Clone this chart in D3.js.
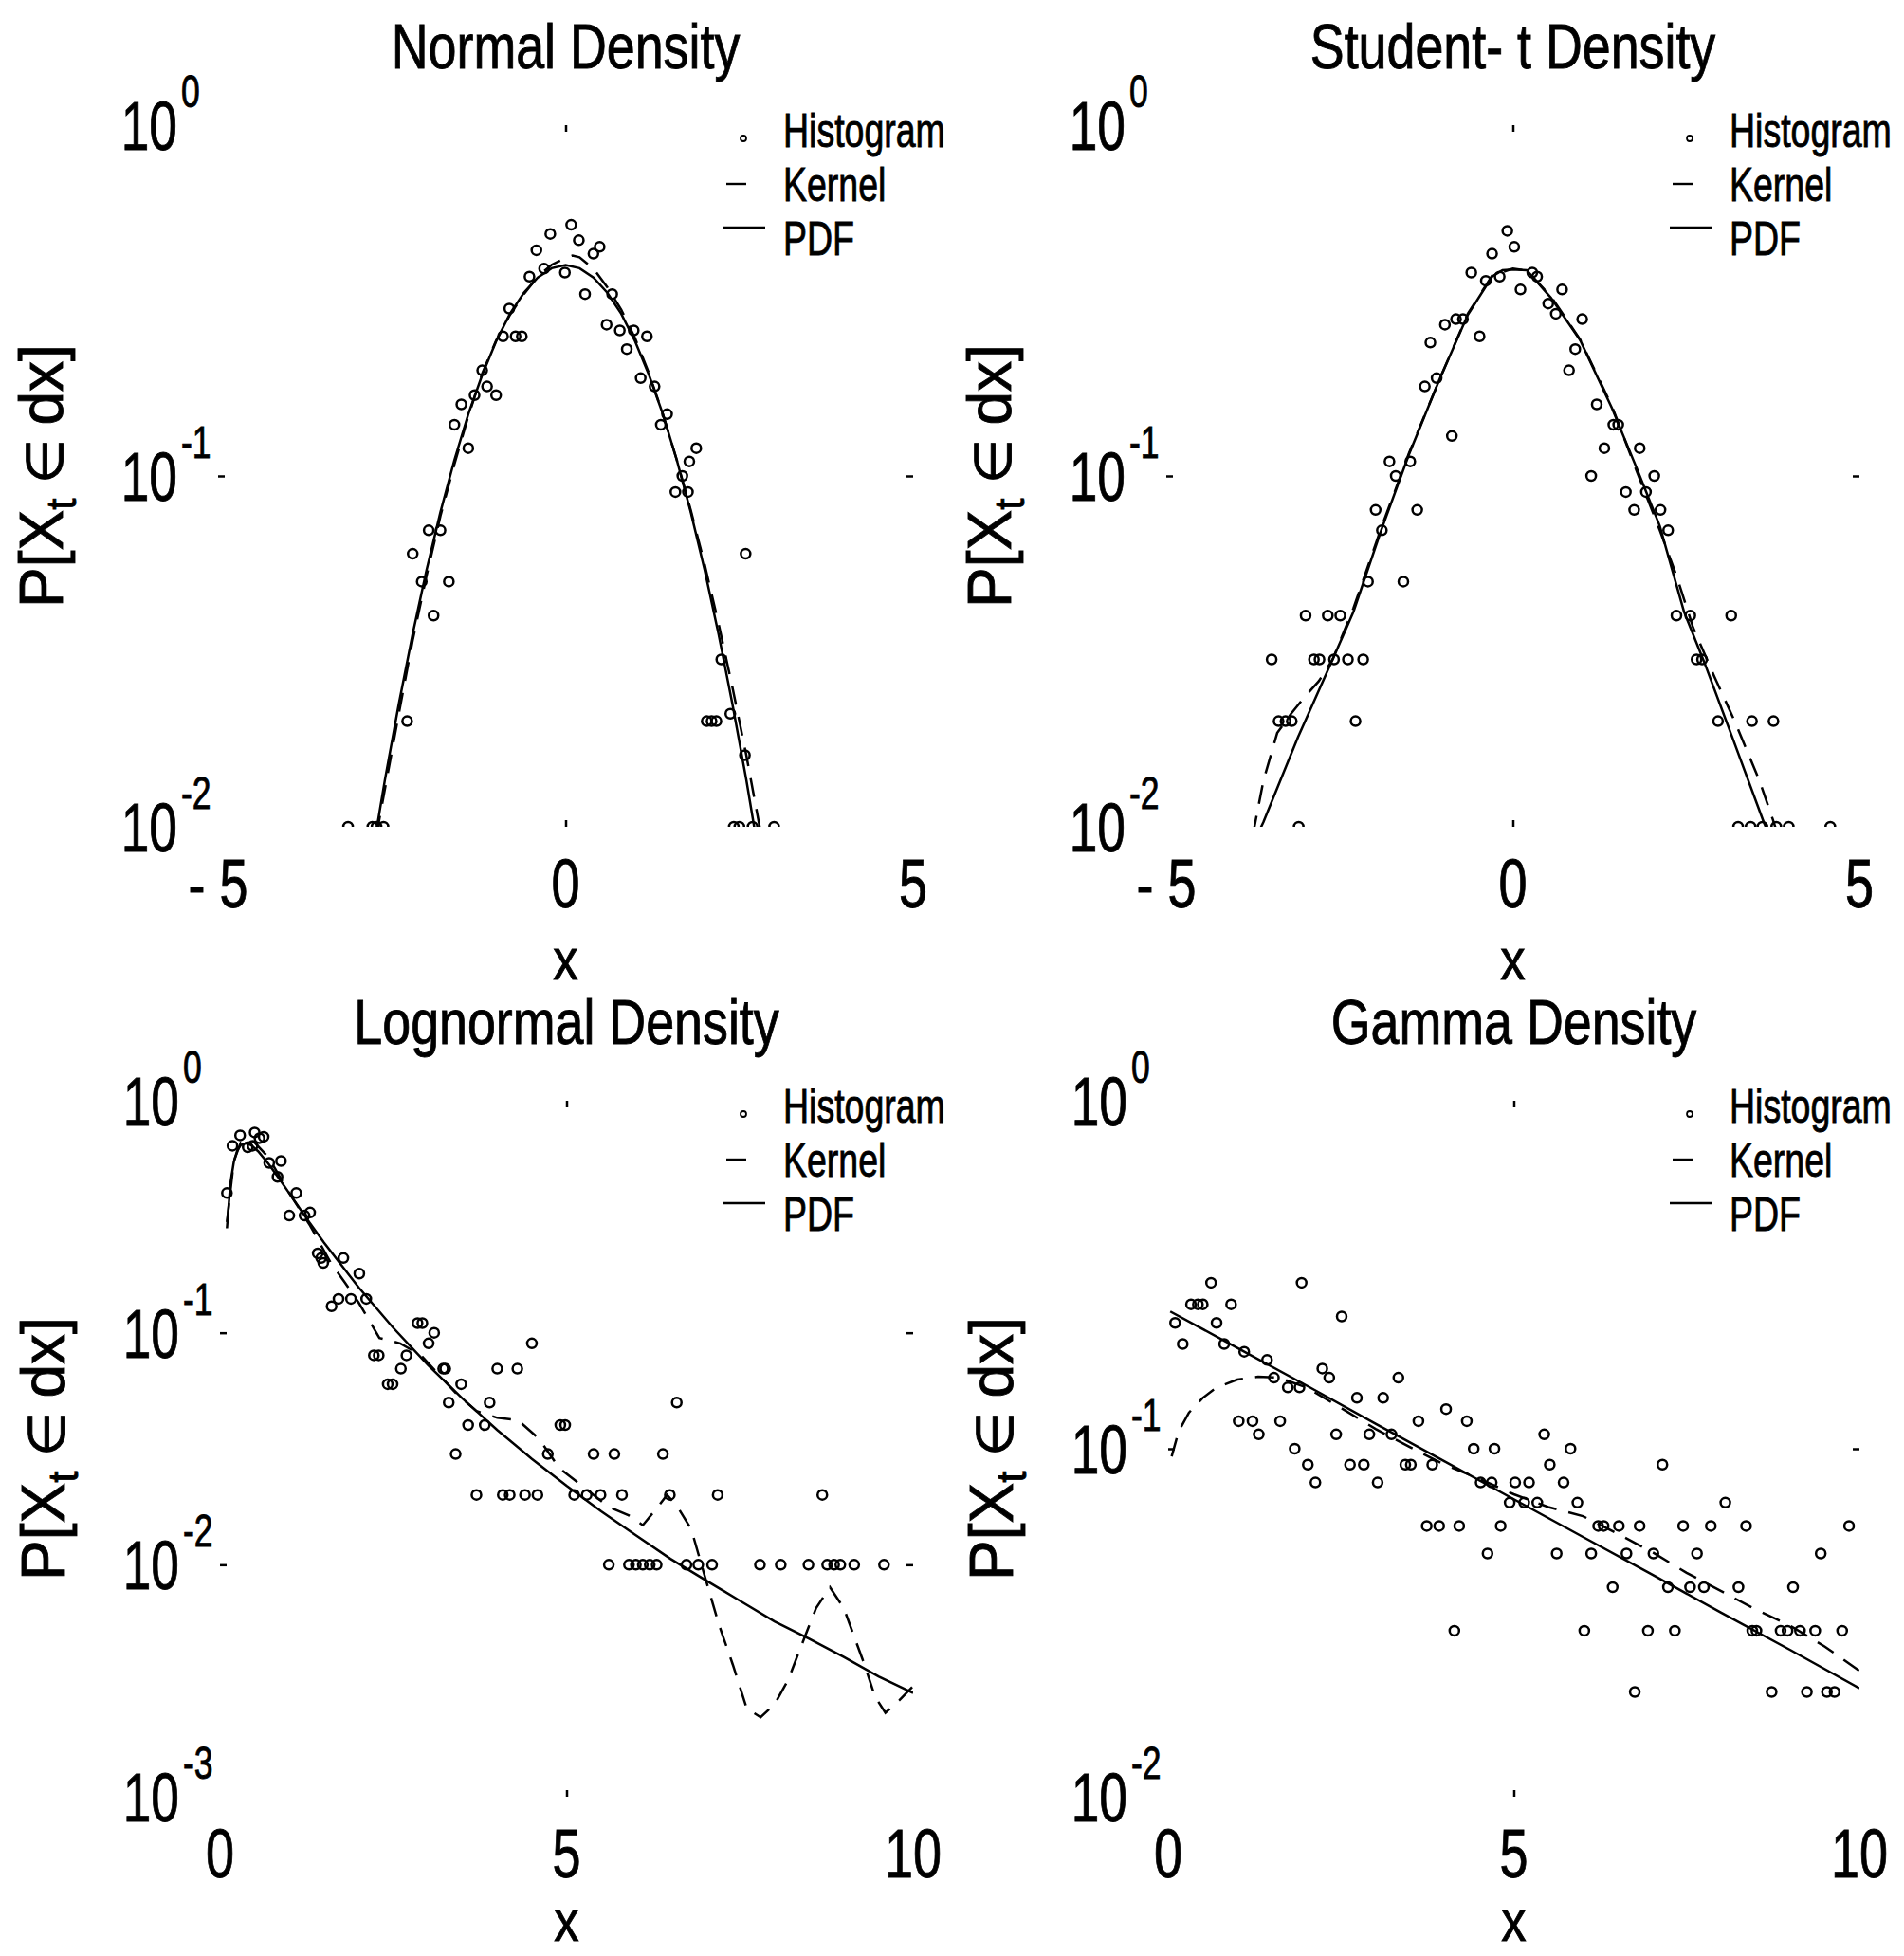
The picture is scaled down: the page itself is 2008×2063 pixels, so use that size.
<!DOCTYPE html>
<html>
<head>
<meta charset="utf-8">
<script src="https://cdn.jsdelivr.net/npm/d3@7"></script>
<style>
  html, body { margin: 0; padding: 0; background: #fff; }
  svg text { font-family: "Liberation Sans", Arial, sans-serif; fill: #000; stroke: #000; stroke-width: 0.9px; }
</style>
</head>
<body>
<svg id="fig" width="2008" height="2063"></svg>
<script>
// ---------------- data: [x, density] ----------------
const normalHist = [
  [0.08,0.52],[-0.22,0.49],[0.19,0.47],[0.49,0.45],[0.40,0.43],[-0.42,0.44],[-0.01,0.38],[-0.31,0.39],
  [-0.52,0.37],[0.28,0.33],[0.67,0.33],[-0.81,0.30],[-0.90,0.25],[-0.72,0.25],[-0.63,0.25],[0.59,0.27],
  [0.78,0.26],[0.98,0.26],[1.17,0.25],[0.88,0.23],[-1.20,0.20],[-1.13,0.18],[-1.00,0.17],[-1.31,0.17],
  [-1.50,0.16],[-1.60,0.14],[-1.40,0.12],[1.08,0.19],[1.28,0.18],[1.46,0.15],[1.37,0.14],[1.88,0.12],
  [1.78,0.11],[1.68,0.10],[1.58,0.09],[1.76,0.09],[-1.97,0.07],[-1.80,0.07],[-2.20,0.06],[-2.07,0.05],
  [-1.68,0.05],[-1.90,0.04],[2.59,0.06],[-2.28,0.02],[2.03,0.02],[2.10,0.02],[2.17,0.02],[2.37,0.021],
  [2.58,0.016],[2.24,0.03],[-3.13,0.01],[-2.78,0.01],[-2.72,0.01],[-2.62,0.01],[2.42,0.01],[2.50,0.01],
  [2.69,0.01],[3.00,0.01]
];
const normalKernel = [
  [-3.0,0.0052],[-2.8,0.0078],[-2.6,0.0128],[-2.4,0.021],[-2.2,0.034],[-2.0,0.052],[-1.8,0.077],[-1.6,0.108],
  [-1.4,0.148],[-1.2,0.196],[-1.0,0.243],[-0.8,0.288],[-0.6,0.330],[-0.4,0.370],[-0.2,0.400],[0.0,0.418],
  [0.1,0.425],[0.2,0.420],[0.4,0.390],[0.6,0.345],[0.8,0.298],[1.0,0.247],[1.2,0.196],[1.4,0.150],
  [1.6,0.111],[1.8,0.080],[2.0,0.056],[2.2,0.038],[2.4,0.025],[2.6,0.016],[2.8,0.0098],[3.0,0.0058]
];
const normalPdf = [
  [-3.0,0.0044],[-2.8,0.0079],[-2.6,0.0136],[-2.4,0.0224],[-2.2,0.0355],[-2.0,0.054],[-1.8,0.079],[-1.6,0.111],
  [-1.4,0.150],[-1.2,0.194],[-1.0,0.242],[-0.8,0.290],[-0.6,0.333],[-0.4,0.368],[-0.2,0.391],[0.0,0.399],
  [0.2,0.391],[0.4,0.368],[0.6,0.333],[0.8,0.290],[1.0,0.242],[1.2,0.194],[1.4,0.150],[1.6,0.111],
  [1.8,0.079],[2.0,0.054],[2.2,0.0355],[2.4,0.0224],[2.6,0.0136],[2.8,0.0079],[3.0,0.0044]
];

const studentHist = [
  [-0.08,0.50],[0.02,0.45],[-0.30,0.43],[-0.60,0.38],[-0.39,0.36],[-0.19,0.37],[0.11,0.34],[0.28,0.38],
  [0.35,0.37],[0.71,0.34],[0.51,0.31],[0.62,0.29],[1.00,0.28],[-0.98,0.27],[-0.72,0.28],[-0.82,0.28],
  [-1.19,0.24],[-0.48,0.25],[-1.10,0.19],[-1.27,0.18],[0.90,0.23],[0.81,0.20],[1.21,0.16],[1.52,0.14],
  [1.45,0.14],[-0.88,0.13],[-1.78,0.11],[-1.48,0.11],[-1.69,0.10],[1.32,0.12],[1.83,0.12],[1.13,0.10],
  [2.04,0.10],[1.63,0.09],[1.92,0.09],[1.75,0.08],[2.13,0.08],[2.24,0.07],[-1.98,0.08],[-1.38,0.08],
  [-1.89,0.07],[-2.09,0.05],[-1.58,0.05],[-2.99,0.04],[-2.67,0.04],[-2.49,0.04],[2.36,0.04],[2.56,0.04],
  [3.15,0.04],[-3.48,0.03],[-2.87,0.03],[-2.79,0.03],[-2.58,0.03],[-2.38,0.03],[-2.16,0.03],[2.65,0.03],
  [2.73,0.03],[-3.38,0.02],[-3.28,0.02],[-3.19,0.02],[-2.27,0.02],[2.96,0.02],[3.45,0.02],[3.76,0.02],
  [-3.09,0.01],[3.25,0.01],[3.43,0.01],[3.60,0.01],[3.80,0.01],[3.98,0.01],[4.58,0.01]
];
const studentKernel = [
  [-3.75,0.0095],[-3.6,0.0135],[-3.4,0.0185],[-3.2,0.021],[-3.0,0.0235],[-2.8,0.026],[-2.6,0.030],[-2.3,0.042],
  [-1.9,0.071],[-1.5,0.116],[-1.05,0.190],[-0.65,0.290],[-0.3,0.372],[0.0,0.390],[0.2,0.385],[0.55,0.325],
  [0.97,0.245],[1.43,0.158],[1.78,0.104],[2.12,0.070],[2.36,0.052],[2.6,0.037],[2.9,0.027],[3.2,0.020],
  [3.56,0.0135],[3.75,0.0105],[3.9,0.0085]
];
const studentPdf = [
  [-3.8,0.0085],[-3.6,0.0103],[-3.1,0.018],[-2.6,0.030],[-2.3,0.041],[-1.9,0.070],[-1.5,0.115],[-1.05,0.190],
  [-0.65,0.288],[-0.3,0.370],[-0.15,0.386],[0.0,0.388],[0.2,0.386],[0.55,0.322],[0.97,0.244],[1.43,0.156],
  [1.78,0.106],[2.12,0.072],[2.47,0.041],[2.76,0.0295],[3.1,0.0195],[3.62,0.0103],[3.8,0.0085]
];

const lognormalHist = [
  [0.18,0.64],[0.29,0.71],[0.40,0.63],[0.47,0.64],[0.50,0.73],[0.57,0.69],[0.63,0.70],[0.71,0.54],
  [0.88,0.55],[0.83,0.47],[0.10,0.40],[1.10,0.40],[1.00,0.32],[1.22,0.32],[1.30,0.33],[1.41,0.22],
  [1.46,0.21],[1.49,0.20],[1.78,0.21],[2.01,0.18],[1.61,0.13],[1.71,0.14],[1.89,0.14],[2.11,0.14],
  [2.85,0.11],[2.92,0.11],[3.09,0.10],[3.01,0.09],[2.69,0.08],[2.22,0.08],[2.29,0.08],[2.61,0.07],
  [2.42,0.06],[2.49,0.06],[3.22,0.07],[3.25,0.07],[3.48,0.06],[3.30,0.05],[3.89,0.05],[4.00,0.07],
  [4.29,0.07],[4.50,0.09],[3.58,0.04],[3.82,0.04],[4.91,0.04],[4.98,0.04],[3.40,0.03],[4.73,0.03],
  [5.39,0.03],[5.69,0.03],[6.39,0.03],[6.59,0.05],[3.70,0.02],[4.08,0.02],[4.18,0.02],[4.40,0.02],
  [4.58,0.02],[5.11,0.02],[5.29,0.02],[5.49,0.02],[5.80,0.02],[6.49,0.02],[7.18,0.02],[8.69,0.02],
  [5.61,0.01],[5.90,0.01],[6.00,0.01],[6.10,0.01],[6.20,0.01],[6.30,0.01],[6.73,0.01],[6.90,0.01],
  [7.10,0.01],[7.79,0.01],[8.09,0.01],[8.49,0.01],[8.76,0.01],[8.86,0.01],[8.95,0.01],[9.15,0.01],
  [9.58,0.01]
];
const lognormalKernel = [
  [0.10,0.30],[0.20,0.55],[0.30,0.66],[0.40,0.68],[0.50,0.66],[0.70,0.57],[1.00,0.40],[1.30,0.29],
  [1.60,0.20],[1.80,0.165],[2.00,0.135],[2.30,0.095],[2.60,0.090],[2.90,0.080],[3.20,0.064],[3.40,0.055],
  [3.70,0.046],[4.00,0.043],[4.30,0.042],[4.60,0.035],[4.90,0.026],[5.30,0.021],[5.60,0.0178],[5.90,0.0163],
  [6.10,0.0148],[6.30,0.0175],[6.45,0.020],[6.60,0.0178],[6.80,0.0142],[7.00,0.0088],[7.20,0.0055],[7.40,0.0037],
  [7.60,0.0024],[7.80,0.0022],[8.00,0.0025],[8.20,0.0032],[8.45,0.0050],[8.60,0.0065],[8.80,0.0080],[9.00,0.0065],
  [9.15,0.0049],[9.30,0.0037],[9.45,0.0027],[9.60,0.0023],[9.80,0.0026],[10.0,0.0030]
];
const lognormalPdf = [
  [0.10,0.282],[0.15,0.440],[0.20,0.546],[0.25,0.611],[0.30,0.644],[0.37,0.656],[0.45,0.644],[0.55,0.606],
  [0.70,0.535],[0.85,0.463],[1.00,0.399],[1.25,0.311],[1.50,0.245],[2.00,0.157],[2.50,0.105],[3.00,0.0727],
  [3.50,0.052],[4.00,0.0381],[4.50,0.0286],[5.00,0.0219],[5.50,0.0170],[6.00,0.0134],[6.50,0.0106],[7.00,0.0086],
  [7.50,0.0070],[8.00,0.0057],[8.50,0.0048],[9.00,0.0040],[9.50,0.0033],[10.0,0.0028]
];

const gammaHist = [
  [0.62,0.30],[1.93,0.30],[0.33,0.26],[0.43,0.26],[0.50,0.26],[0.91,0.26],[0.10,0.23],[0.21,0.20],
  [0.70,0.23],[0.81,0.20],[1.10,0.19],[1.43,0.18],[2.23,0.17],[2.33,0.16],[2.51,0.24],[3.33,0.16],
  [1.53,0.16],[1.73,0.15],[1.90,0.15],[2.73,0.14],[3.11,0.14],[4.02,0.13],[3.62,0.12],[4.32,0.12],
  [1.02,0.12],[1.22,0.12],[1.62,0.12],[1.31,0.11],[2.43,0.11],[2.91,0.11],[3.23,0.11],[1.83,0.10],
  [4.42,0.10],[4.72,0.10],[5.44,0.11],[5.82,0.10],[2.02,0.09],[2.63,0.09],[2.83,0.09],[3.43,0.09],
  [3.51,0.09],[3.82,0.09],[5.52,0.09],[7.15,0.09],[2.13,0.08],[3.03,0.08],[4.52,0.08],[4.68,0.08],
  [5.02,0.08],[5.22,0.08],[5.72,0.08],[4.94,0.07],[5.15,0.07],[5.34,0.07],[5.92,0.07],[8.06,0.07],
  [3.74,0.06],[3.92,0.06],[4.21,0.06],[4.81,0.06],[6.22,0.06],[6.30,0.06],[6.52,0.06],[6.82,0.06],
  [7.45,0.06],[7.85,0.06],[8.36,0.06],[9.85,0.06],[4.62,0.05],[5.62,0.05],[6.12,0.05],[6.63,0.05],
  [7.02,0.05],[7.65,0.05],[9.44,0.05],[6.43,0.04],[7.23,0.04],[7.55,0.04],[7.75,0.04],[8.25,0.04],
  [9.04,0.04],[4.14,0.03],[6.02,0.03],[6.94,0.03],[7.33,0.03],[8.45,0.03],[8.51,0.03],[8.86,0.03],
  [8.96,0.03],[9.14,0.03],[9.36,0.03],[9.75,0.03],[6.75,0.02],[8.73,0.02],[9.24,0.02],[9.53,0.02],
  [9.64,0.02]
];
const gammaKernel = [
  [0.05,0.095],[0.15,0.112],[0.30,0.127],[0.50,0.140],[0.70,0.150],[1.00,0.158],[1.30,0.161],[1.60,0.160],
  [2.00,0.150],[2.50,0.131],[3.00,0.114],[3.50,0.101],[4.00,0.090],[4.50,0.082],[5.00,0.074],[5.50,0.068],
  [6.00,0.064],[6.50,0.057],[7.00,0.0505],[7.50,0.044],[8.00,0.039],[8.50,0.0345],[9.00,0.031],[9.50,0.027],
  [10.0,0.023]
];
const gammaPdf = [
  [0.03,0.248],[1.0,0.195],[2.0,0.152],[3.0,0.118],[4.0,0.092],[5.0,0.0716],[6.0,0.0558],[7.0,0.0435],
  [8.0,0.0338],[9.0,0.0264],[10.0,0.0205]
];

// tick values and labels
const symmetricXTicks = [-5, 0, 5];
const positiveXTicks = [0, 5, 10];
const twoDecadeExponents = [0, -1, -2];
const threeDecadeExponents = [0, -1, -2, -3];
const legendLabels = ["Histogram", "Kernel", "PDF"];
const panelTitles = ["Normal Density", "Student- t Density", "Lognormal Density", "Gamma Density"];

// ---------------- drawing ----------------
const svg = d3.select("#fig");

const panels = [
  { title: panelTitles[0], hist: normalHist,    kernel: normalKernel,    pdf: normalPdf,
    xDomain: [-5, 5], xTicks: symmetricXTicks, exps: twoDecadeExponents,
    left: 230, right: 963, top: 132, bottom: 872, titleY: 72, xLabelY: 1033 },
  { title: panelTitles[1], hist: studentHist,   kernel: studentKernel,   pdf: studentPdf,
    xDomain: [-5, 5], xTicks: symmetricXTicks, exps: twoDecadeExponents,
    left: 1230, right: 1961, top: 132, bottom: 872, titleY: 72, xLabelY: 1033 },
  { title: panelTitles[2], hist: lognormalHist, kernel: lognormalKernel, pdf: lognormalPdf,
    xDomain: [0, 10], xTicks: positiveXTicks, exps: threeDecadeExponents,
    left: 232, right: 963, top: 1161, bottom: 1895, titleY: 1101, xLabelY: 2047 },
  { title: panelTitles[3], hist: gammaHist,     kernel: gammaKernel,     pdf: gammaPdf,
    xDomain: [0, 10], xTicks: positiveXTicks, exps: twoDecadeExponents,
    left: 1232, right: 1961, top: 1161, bottom: 1895, titleY: 1101, xLabelY: 2047 }
];

// condensed text helper: horizontal squeeze applied around the anchor point
function label(g, str, x, y, size, anchor, sx) {
  return g.append("text")
    .attr("transform", `translate(${x},${y}) scale(${sx},1)`)
    .attr("text-anchor", anchor)
    .attr("font-size", size)
    .text(str);
}

panels.forEach((p, i) => {
  const g = svg.append("g");
  const x = d3.scaleLinear().domain(p.xDomain).range([p.left, p.right]);
  const yMin = Math.pow(10, d3.min(p.exps));
  const y = d3.scaleLog().domain([yMin, 1]).range([p.bottom, p.top]);

  const clipId = "clip" + i;
  svg.append("clipPath").attr("id", clipId)
    .append("rect").attr("x", p.left).attr("y", p.top)
    .attr("width", p.right - p.left).attr("height", p.bottom - p.top);

  // inner tick marks (interior ticks only, no axis lines)
  const innerX = p.xTicks.slice(1, -1);
  const innerY = p.exps.slice(1, -1).map(e => Math.pow(10, e));
  const tickLen = 7;
  const axes = [
    g.append("g").attr("transform", `translate(0,${p.top})`).call(d3.axisBottom(x).tickValues(innerX).tickSize(tickLen).tickFormat("")),
    g.append("g").attr("transform", `translate(0,${p.bottom})`).call(d3.axisTop(x).tickValues(innerX).tickSize(tickLen).tickFormat("")),
    g.append("g").attr("transform", `translate(${p.left},0)`).call(d3.axisRight(y).tickValues(innerY).tickSize(tickLen).tickFormat("")),
    g.append("g").attr("transform", `translate(${p.right},0)`).call(d3.axisLeft(y).tickValues(innerY).tickSize(tickLen).tickFormat(""))
  ];
  axes.forEach(a => {
    a.select(".domain").remove();
    a.selectAll("line").attr("stroke", "#000").attr("stroke-width", 2.5);
  });

  // x tick labels
  p.xTicks.forEach(v => {
    const s = v < 0 ? "- " + Math.abs(v) : String(v);
    label(g, s, x(v), p.bottom + 85, 72, "middle", 0.75);
  });

  // y tick labels, 10 with raised exponent
  p.exps.forEach(e => {
    const yy = y(Math.pow(10, e));
    label(g, "10", p.left - 43, yy + 26, 72, "end", 0.74);
    label(g, e === 0 ? "0" : "-" + Math.abs(e), p.left - 39, yy - 19, 48, "start", 0.74);
  });

  // title and axis labels
  label(g, p.title, (p.left + p.right) / 2, p.titleY, 66, "middle", 0.815);
  label(g, "x", (p.left + p.right) / 2, p.xLabelY, 62, "middle", 0.85);

  const yl = g.append("text")
    .attr("transform", `translate(${p.left - 164},${(p.top + p.bottom) / 2}) rotate(-90)`)
    .attr("text-anchor", "middle")
    .attr("font-size", 64);
  yl.append("tspan").text("P[X");
  yl.append("tspan").attr("font-size", 44).attr("dy", 14).text("t");
  yl.append("tspan").attr("dy", -14).attr("font-size", 54).text(" ∈  ");
  yl.append("tspan").text("dx]");

  // plotted series
  const plot = g.append("g").attr("clip-path", `url(#${clipId})`);
  const line = d3.line().x(d => x(d[0])).y(d => y(d[1]));

  plot.append("path").datum(p.pdf).attr("d", line)
    .attr("fill", "none").attr("stroke", "#000").attr("stroke-width", 2.5);
  plot.append("path").datum(p.kernel).attr("d", line)
    .attr("fill", "none").attr("stroke", "#000").attr("stroke-width", 2.5)
    .attr("stroke-dasharray", "20,13");
  plot.selectAll("circle").data(p.hist).join("circle")
    .attr("cx", d => x(d[0])).attr("cy", d => y(d[1])).attr("r", 5)
    .attr("fill", "none").attr("stroke", "#000").attr("stroke-width", 2.5);

  // legend
  const lx = p.right - 137;
  const ly = p.top + 23;
  legendLabels.forEach((t, k) => label(g, t, lx, ly + k * 57, 50, "start", 0.75));
  g.append("circle").attr("cx", p.right - 179).attr("cy", p.top + 14).attr("r", 3)
    .attr("fill", "none").attr("stroke", "#000").attr("stroke-width", 1.8);
  g.append("line").attr("x1", p.right - 197).attr("x2", p.right - 176)
    .attr("y1", p.top + 62).attr("y2", p.top + 62).attr("stroke", "#000").attr("stroke-width", 2.4);
  g.append("line").attr("x1", p.right - 200).attr("x2", p.right - 156)
    .attr("y1", p.top + 108).attr("y2", p.top + 108).attr("stroke", "#000").attr("stroke-width", 2.4);
});
</script>
</body>
</html>
